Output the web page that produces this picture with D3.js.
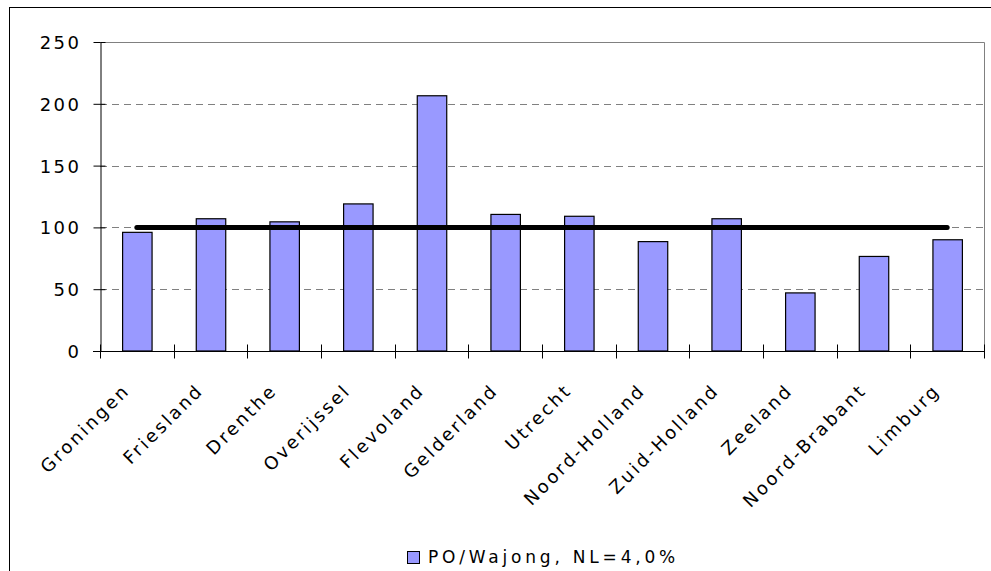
<!DOCTYPE html>
<html>
<head>
<meta charset="utf-8">
<script src="https://cdn.jsdelivr.net/npm/d3@7/dist/d3.min.js"></script>
<style>
  html, body { margin: 0; padding: 0; background: #fff; }
  svg { display: block; }
  text { font-family: "DejaVu Sans", Verdana, sans-serif; fill: #000; }
</style>
</head>
<body>
<svg id="chart" width="991" height="571"></svg>
<script>
const categories = ["Groningen", "Friesland", "Drenthe", "Overijssel", "Flevoland", "Gelderland",
  "Utrecht", "Noord-Holland", "Zuid-Holland", "Zeeland", "Noord-Brabant", "Limburg"];
const values = [96, 107, 104.5, 119, 206.5, 110.5, 109, 88.5, 107, 47, 76.5, 90];
const reference = [100, 100, 100, 100, 100, 100, 100, 100, 100, 100, 100, 100];
const yTicks = [0, 50, 100, 150, 200, 250];
const legendLabel = "PO/Wajong, NL=4,0%";

const svg = d3.select("#chart");
const pLeft = 100, pRight = 984, pTop = 42, pBottom = 351;

// outer frame
svg.append("rect").attr("x", 9.5).attr("y", 7.5).attr("width", 1000).attr("height", 600)
  .attr("fill", "none").attr("stroke", "#000").attr("stroke-width", 1);

const x = d3.scaleBand().domain(categories).range([pLeft, pRight]).paddingInner(0).paddingOuter(0);
const y = d3.scaleLinear().domain([0, 250]).range([pBottom, pTop]);

// gridlines
svg.append("g").selectAll("line").data(yTicks.filter(t => t > 0 && t < 250)).join("line")
  .attr("x1", pLeft).attr("x2", pRight)
  .attr("y1", d => Math.round(y(d)) + 0.5).attr("y2", d => Math.round(y(d)) + 0.5)
  .attr("stroke", "#808080").attr("stroke-width", 1).attr("stroke-dasharray", "7,5");

// plot area border (top & right)
svg.append("path")
  .attr("d", `M${pLeft},${Math.round(y(250)) + 0.5}H${pRight + 0.5}V${pBottom}`)
  .attr("fill", "none").attr("stroke", "#808080").attr("stroke-width", 1);

// bars
const bw = x.bandwidth() * 0.4;
svg.append("g").selectAll("rect").data(values).join("rect")
  .attr("x", (d, i) => x(categories[i]) + x.bandwidth() / 2 - bw / 2 + 0.5)
  .attr("width", bw)
  .attr("y", d => y(d))
  .attr("height", d => pBottom - y(d))
  .attr("fill", "#9999FF").attr("stroke", "#000").attr("stroke-width", 1.2);

// y axis
const yAxis = svg.append("g").attr("transform", `translate(${pLeft + 0.5},0)`)
  .call(d3.axisLeft(y).tickValues(yTicks).tickSize(7).tickPadding(12).tickSizeOuter(0));
yAxis.select(".domain").attr("stroke", "#000");
yAxis.selectAll(".tick line").clone().attr("x2", 5);
yAxis.selectAll("text").style("font-size", "18px").style("letter-spacing", "2.5px").attr("dy", "0.36em");

// x axis
const xAxisG = svg.append("g").attr("transform", `translate(0,${pBottom + 0.5})`);
xAxisG.append("line").attr("x1", pLeft - 7).attr("x2", pRight + 1).attr("stroke", "#000");
const boundaries = categories.map(c => x(c)).concat([pRight]);
xAxisG.selectAll("line.tk").data(boundaries).join("line").attr("class", "tk")
  .attr("x1", d => Math.round(d) + 0.5).attr("x2", d => Math.round(d) + 0.5)
  .attr("y1", -7).attr("y2", 7).attr("stroke", "#000");
xAxisG.selectAll("text").data(categories).join("text")
  .attr("transform", d => `translate(${x(d) + x.bandwidth() / 2 - 6},${40}) rotate(-45)`)
  .attr("text-anchor", "end")
  .style("font-size", "18px").style("letter-spacing", "2.6px")
  .text(d => d);

// reference line
const line = d3.line().x((d, i) => x(categories[i]) + x.bandwidth() / 2).y(d => y(d));
svg.append("path").datum(reference).attr("d", line)
  .attr("fill", "none").attr("stroke", "#000").attr("stroke-width", 5).attr("stroke-linecap", "round");

// legend
const lg = svg.append("g");
lg.append("rect").attr("x", 407.5).attr("y", 551.5).attr("width", 12).attr("height", 12)
  .attr("fill", "#9999FF").attr("stroke", "#000").attr("stroke-width", 1);
lg.append("text").attr("x", 428).attr("y", 563).style("font-size", "17px").style("letter-spacing", "3.8px")
  .text(legendLabel);
</script>
</body>
</html>
